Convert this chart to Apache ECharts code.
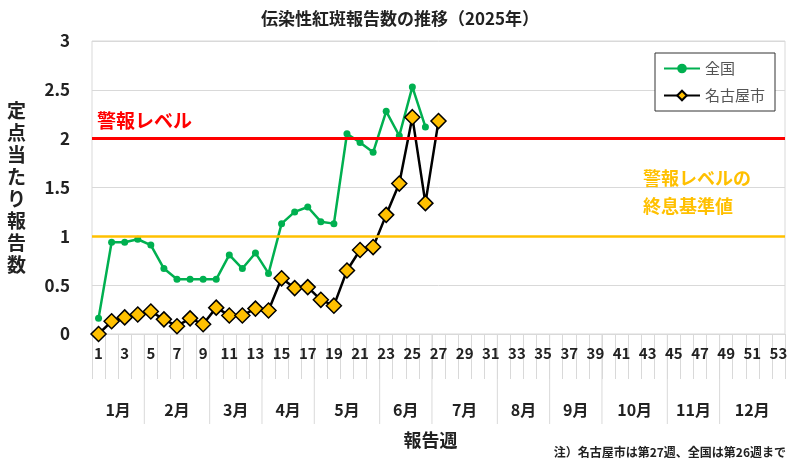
<!DOCTYPE html>
<html><head><meta charset="utf-8">
<script src="https://cdn.jsdelivr.net/npm/echarts@6/dist/echarts.min.js"></script>
<style>html,body{margin:0;padding:0;background:#fff}#c{width:800px;height:466px}</style>
</head><body><div id="c"></div>
<script>
const weeks = Array.from({length:53},(_,i)=>String(i+1));
const national = [0.16,0.94,0.94,0.97,0.91,0.67,0.56,0.56,0.56,0.56,0.81,0.67,0.83,0.62,1.13,1.25,1.30,1.15,1.13,2.05,1.96,1.86,2.28,2.03,2.53,2.12];
const nagoya = [0,0.13,0.17,0.20,0.23,0.15,0.08,0.16,0.10,0.27,0.19,0.19,0.26,0.24,0.57,0.47,0.48,0.35,0.29,0.65,0.86,0.89,1.22,1.54,2.22,1.34,2.18];
const months = ['1月','2月','3月','4月','5月','6月','7月','8月','9月','10月','11月','12月'];
const monthEndWeeks = [4,9,13,17,22,26,31,35,39,44,48,53];
const alertLevel = 2, endLevel = 1;
const F = '"Noto Sans CJK JP", sans-serif';
const chart = echarts.init(document.getElementById('c'));
const opt = {
  animation:false,
  title:{text:'伝染性紅斑報告数の推移（2025年）',left:'center',top:5,textStyle:{fontFamily:F,fontSize:17,fontWeight:'bold',color:'#222'}},
  grid:{left:92,right:15,top:41,bottom:132,show:true,borderColor:'#d9d9d9',borderWidth:1},
  legend:{orient:'vertical',left:655,top:53,width:125,padding:[8,10,8,8],itemGap:12,borderColor:'#333',borderWidth:1,backgroundColor:'#fff',
    itemWidth:36,itemHeight:12,textStyle:{fontFamily:F,fontSize:15,color:'#555'},data:['全国','名古屋市']},
  xAxis:{type:'category',data:weeks,boundaryGap:true,
    axisLine:{lineStyle:{color:'#d9d9d9'}},
    axisTick:{show:true,interval:0,length:45,lineStyle:{color:'#d9d9d9'}},
    axisLabel:{interval:1,margin:12,fontFamily:F,fontSize:15,fontWeight:'bold',color:'#222'},
    splitLine:{show:false}},
  yAxis:{type:'value',min:0,max:3,interval:0.5,
    name:'定\n点\n当\nた\nり\n報\n告\n数',nameLocation:'middle',nameRotate:0,nameGap:66,
    nameTextStyle:{fontFamily:F,fontSize:19,fontWeight:'bold',color:'#222',lineHeight:22},
    axisLine:{show:false},axisTick:{show:false},
    axisLabel:{margin:22,fontFamily:F,fontSize:17,fontWeight:'bold',color:'#222'},
    splitLine:{lineStyle:{color:'#d9d9d9'}}},
  series:[
    {name:'全国',type:'line',data:national,symbol:'circle',symbolSize:7,showAllSymbol:true,z:3,
     lineStyle:{color:'#00B050',width:2.5},itemStyle:{color:'#00B050'},
     markLine:{symbol:'none',silent:true,label:{show:false},data:[
       {yAxis:alertLevel,lineStyle:{color:'#FF0000',width:3,type:'solid'}},
       {yAxis:endLevel,lineStyle:{color:'#FFC000',width:2.5,type:'solid'}}]}},
    {name:'名古屋市',type:'line',data:nagoya,symbol:'diamond',symbolSize:15,showAllSymbol:true,z:4,
     lineStyle:{color:'#000',width:2.5},itemStyle:{color:'#FFC000',borderColor:'#000',borderWidth:1.5}}
  ]
};
chart.setOption(opt);
const px = i => chart.convertToPixel({xAxisIndex:0}, i);
const y0 = chart.convertToPixel({yAxisIndex:0}, 0);
const g = [];
let prev = 0;
monthEndWeeks.forEach((w,k)=>{
  const xr = w<53 ? (px(w-1)+px(w))/2 : null;
  if (xr!==null) g.push({type:'line',shape:{x1:xr,y1:y0,x2:xr,y2:y0+90},style:{stroke:'#d9d9d9',lineWidth:1},silent:true});
  const xc = (px(prev)+px(w-1))/2;
  g.push({type:'text',x:xc,y:y0+76,style:{text:months[k],fontFamily:F,fontSize:16,fontWeight:'bold',fill:'#222',align:'center',verticalAlign:'middle'}});
  prev = w;
});
g.push({type:'text',x:px(25)+5,y:y0+106,style:{text:'報告週',fontFamily:F,fontSize:18,fontWeight:'bold',fill:'#222',align:'center',verticalAlign:'middle'}});
g.push({type:'text',right:14,bottom:8,style:{text:'注）名古屋市は第27週、全国は第26週まで',fontFamily:F,fontSize:12,fontWeight:'bold',fill:'#222'}});
const ya = chart.convertToPixel({yAxisIndex:0}, alertLevel);
const ye = chart.convertToPixel({yAxisIndex:0}, endLevel);
g.push({type:'text',x:97,y:ya-18,style:{text:'警報レベル',fontFamily:F,fontSize:19,fontWeight:'bold',fill:'#FF0000',verticalAlign:'middle'}});
g.push({type:'text',x:643,y:ye-44,style:{text:'警報レベルの\n終息基準値',fontFamily:F,fontSize:18,fontWeight:'bold',fill:'#FFC000',lineHeight:28,verticalAlign:'middle'}});
chart.setOption({graphic:g});
</script></body></html>
